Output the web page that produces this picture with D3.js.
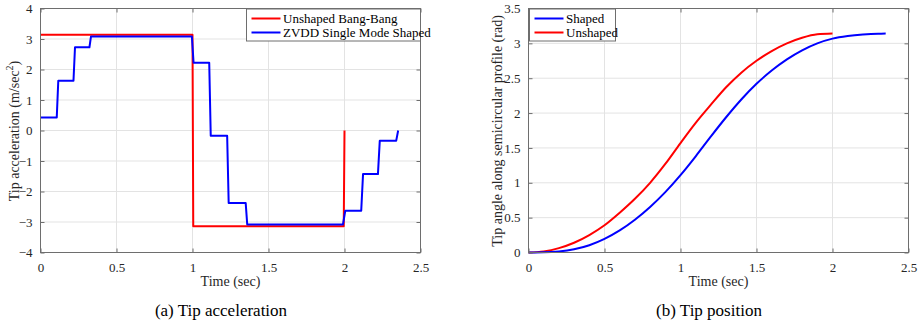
<!DOCTYPE html>
<html>
<head>
<meta charset="utf-8">
<script src="https://cdn.jsdelivr.net/npm/d3@7"></script>
<style>
  body { margin: 0; background: #fff; }
  svg text { font-family: "Liberation Serif", "Times New Roman", serif; }
  .grid line { stroke: #e3e3e3; stroke-width: 1; }
  .frame { fill: none; stroke: #6e6e6e; stroke-width: 1; }
</style>
</head>
<body>
<svg width="923" height="327"></svg>
<script>
// (a) tip acceleration
const accTicksX = [0, 0.5, 1, 1.5, 2, 2.5]
const accTicksY = [-4, -3, -2, -1, 0, 1, 2, 3, 4]
const unshapedAccT = [0, 1.0, 1.005, 1.995, 2.0]
const unshapedAccA = [3.14, 3.14, -3.14, -3.14, 0]
const shapedAccT = [0, 0.107, 0.117, 0.217, 0.227, 0.322, 0.332, 0.996, 1.007, 1.11, 1.12, 1.228, 1.238, 1.35, 1.36,
  1.99, 2.005, 2.11, 2.122, 2.22, 2.232, 2.34, 2.353]
const shapedAccA = [0.43, 0.43, 1.63, 1.63, 2.73, 2.73, 3.08, 3.08, 2.22, 2.22, -0.17, -0.17, -2.38, -2.38, -3.08,
  -3.08, -2.63, -2.63, -1.43, -1.43, -0.34, -0.34, 0]

// (b) tip position
const posTicksX = [0, 0.5, 1, 1.5, 2, 2.5]
const posTicksY = [0, 0.5, 1, 1.5, 2, 2.5, 3, 3.5]
const unshapedPosT = [0, 0.1, 0.2, 0.3, 0.4, 0.5, 0.6, 0.7, 0.8, 0.9, 1.0, 1.1, 1.2, 1.3, 1.4, 1.5, 1.6, 1.7, 1.8, 1.9, 2.0]
const unshapedPos = [0, 0.016, 0.063, 0.14, 0.25, 0.39, 0.57, 0.77, 1.0, 1.27, 1.57, 1.86, 2.12, 2.37, 2.58, 2.75, 2.89, 3.0, 3.08, 3.13, 3.14]
const shapedPosT = [0, 0.1, 0.2, 0.3, 0.4, 0.5, 0.6, 0.7, 0.8, 0.9, 1.0, 1.1, 1.2, 1.3, 1.4, 1.5, 1.6, 1.7, 1.8, 1.9, 2.0, 2.1, 2.2, 2.3, 2.35]
const shapedPos = [0, 0.002, 0.015, 0.047, 0.105, 0.196, 0.317, 0.47, 0.653, 0.866, 1.11, 1.38, 1.665, 1.94, 2.195, 2.42, 2.61, 2.77, 2.9, 3.0, 3.068, 3.106, 3.128, 3.139, 3.14]

const svg = d3.select("svg")
const serif = "Liberation Serif"

function drawPanel(opt) {
  var x = d3.scaleLinear().domain([0, 2.5]).range([opt.left, opt.right])
  var y = d3.scaleLinear().domain(opt.yDomain).range([252.5, 8.5])
  var g = svg.append("g")

  g.append("g").attr("class", "grid").selectAll("line.vx")
    .data(opt.ticksX.slice(1, -1)).enter().append("line")
    .attr("x1", d => x(d)).attr("x2", d => x(d)).attr("y1", y.range()[0]).attr("y2", y.range()[1])
  g.select(".grid").selectAll("line.hy")
    .data(opt.ticksY.slice(1, -1)).enter().append("line")
    .attr("x1", opt.left).attr("x2", opt.right).attr("y1", d => y(d)).attr("y2", d => y(d))

  var line = d3.line().x(d => x(d[0])).y(d => y(d[1]))
  opt.series.forEach(s => {
    var pts = s.t.map((t, i) => [t, s.v[i]])
    g.append("path").attr("d", line.curve(s.curve || d3.curveLinear)(pts))
      .attr("fill", "none").attr("stroke", s.color).attr("stroke-width", 2)
      .attr("stroke-linejoin", "round")
  })

  // axes with inward ticks on all sides
  var axes = g.append("g")
  axes.append("g").attr("transform", "translate(0," + y.range()[0] + ")")
    .call(d3.axisBottom(x).tickValues(opt.ticksX).tickSize(-4).tickPadding(10).tickFormat(d3.format("")))
  axes.append("g").attr("transform", "translate(0," + y.range()[1] + ")")
    .call(d3.axisTop(x).tickValues(opt.ticksX).tickSize(-4).tickFormat(""))
  axes.append("g").attr("transform", "translate(" + opt.left + ",0)")
    .call(d3.axisLeft(y).tickValues(opt.ticksY).tickSize(-4).tickPadding(8).tickFormat(d3.format("")))
  axes.append("g").attr("transform", "translate(" + opt.right + ",0)")
    .call(d3.axisRight(y).tickValues(opt.ticksY).tickSize(-4).tickFormat(""))
  axes.selectAll("g").attr("font-family", serif).attr("font-size", 13)
  axes.selectAll(".domain").remove()
  axes.selectAll(".tick line").attr("stroke", "#6e6e6e")
  axes.selectAll(".tick text").attr("fill", "#262626")
  g.append("rect").attr("class", "frame")
    .attr("x", opt.left).attr("y", y.range()[1])
    .attr("width", opt.right - opt.left).attr("height", y.range()[0] - y.range()[1])

  var mid = (opt.left + opt.right) / 2
  g.append("text").attr("x", mid).attr("y", 286).attr("text-anchor", "middle")
    .attr("font-family", serif).attr("font-size", 14).attr("fill", "#262626").text("Time (sec)")
  g.append("text").attr("x", opt.captionX).attr("y", 316).attr("text-anchor", "middle")
    .attr("font-family", serif).attr("font-size", 17).attr("fill", "#000").text(opt.caption)

  var yl = g.append("text").attr("transform", "translate(" + opt.ylabelX + ",131) rotate(-90)")
    .attr("text-anchor", "middle").attr("font-family", serif).attr("font-size", 14).attr("fill", "#262626")
  opt.ylabel(yl)

  // legend
  var lg = g.append("g")
  lg.append("rect").attr("x", opt.legend.x).attr("y", 9).attr("width", opt.legend.w).attr("height", 32)
    .attr("fill", "#fff").attr("stroke", "#6e6e6e")
  opt.legend.items.forEach((it, i) => {
    var ly = 18.5 + i * 14
    lg.append("line").attr("x1", opt.legend.x + 5).attr("x2", opt.legend.x + 34)
      .attr("y1", ly).attr("y2", ly).attr("stroke", it.color).attr("stroke-width", 2)
    lg.append("text").attr("x", opt.legend.x + 36.5).attr("y", ly + 4.5)
      .attr("font-family", serif).attr("font-size", 13).attr("fill", "#000").text(it.label)
  })
}

drawPanel({
  left: 40.5, right: 420.5, yDomain: [-4, 4],
  ticksX: accTicksX, ticksY: accTicksY,
  series: [
    {t: unshapedAccT, v: unshapedAccA, color: "#ff0000"},
    {t: shapedAccT, v: shapedAccA, color: "#0000ff"}
  ],
  caption: "(a) Tip acceleration", captionX: 221, ylabelX: 19,
  ylabel: t => {
    t.append("tspan").text("Tip acceleration (m/sec")
    t.append("tspan").attr("font-size", 10).attr("dy", -6).text("2")
    t.append("tspan").attr("dy", 6).text(")")
  },
  legend: {x: 246.5, w: 174, items: [
    {label: "Unshaped Bang-Bang", color: "#ff0000"},
    {label: "ZVDD Single Mode Shaped", color: "#0000ff"}
  ]}
})

drawPanel({
  left: 528.5, right: 908.5, yDomain: [0, 3.5],
  ticksX: posTicksX, ticksY: posTicksY,
  series: [
    {t: unshapedPosT, v: unshapedPos, color: "#ff0000", curve: d3.curveMonotoneX},
    {t: shapedPosT, v: shapedPos, color: "#0000ff", curve: d3.curveMonotoneX}
  ],
  caption: "(b) Tip position", captionX: 709, ylabelX: 502,
  ylabel: t => t.text("Tip angle along semicircular profile (rad)"),
  legend: {x: 529.5, w: 86, items: [
    {label: "Shaped", color: "#0000ff"},
    {label: "Unshaped", color: "#ff0000"}
  ]}
})
</script>
</body>
</html>
